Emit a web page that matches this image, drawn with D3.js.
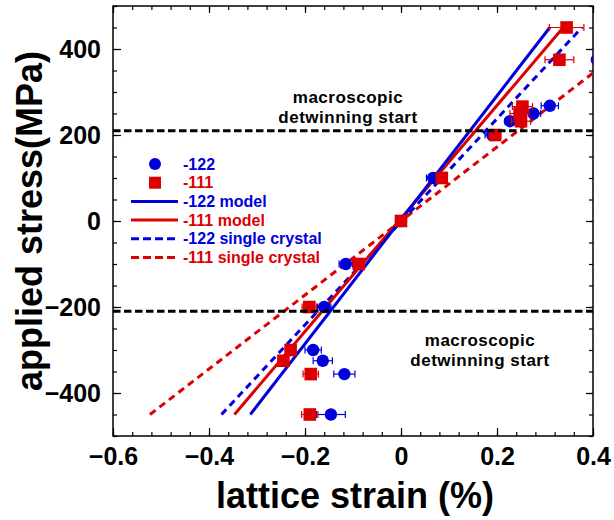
<!DOCTYPE html>
<html>
<head>
<meta charset="utf-8">
<script src="https://cdn.jsdelivr.net/npm/d3@7"></script>
<style>
  body { margin: 0; background: #fff; }
  svg { display: block; font-family: "Liberation Sans", Arial, sans-serif; font-weight: bold; }
</style>
</head>
<body>
<div id="chart"></div>
<script>
// lattice strain vs applied stress, -122 / -111 reflections

// measured points (strain %, stress MPa, x error)
const strain122 = [0.408, 0.31, 0.276, 0.227, 0.19, 0.067, 0, -0.115, -0.16, -0.183, -0.163, -0.118, -0.146];
const stress122 = [375, 268, 250, 232, 200, 100, 0, -100, -200, -300, -325, -356, -450];
const err122 = [0.006, 0.018, 0.015, 0.01, 0.015, 0.014, 0.01, 0.014, 0.014, 0.017, 0.02, 0.022, 0.03];

const strain111 = [0.345, 0.33, 0.253, 0.247, 0.25, 0.196, 0.085, 0, -0.088, -0.191, -0.23, -0.245, -0.188, -0.19];
const stress111 = [450, 375, 266, 250, 232, 200, 100, 0, -100, -200, -300, -325, -356, -450];
const err111 = [0.036, 0.03, 0.021, 0.02, 0.02, 0.012, 0.01, 0.01, 0.01, 0.015, 0.01, 0.01, 0.016, 0.017];

// straight lines, given by their two end points
const lineStress = [-450, 450];
const model122 = [-0.314, 0.31];
const model111 = [-0.347, 0.338];
const single122 = [-0.374, 0.377];
const single111 = [-0.523, 0.523];

// detwinning start levels
const detwinStress = [210, -210];

const xTicks = [-0.6, -0.4, -0.2, 0, 0.2, 0.4];
const yTicks = [-400, -200, 0, 200, 400];

const blue = '#0000dc';
const red = '#dc0000';

const width = 614, height = 520;
const margin = [6, 84, 113, 21]; // top, bottom, left, right

const svg = d3.select('#chart')
    .append('svg')
    .attr('width', width)
    .attr('height', height);

const x = d3.scaleLinear().domain([-0.6, 0.4]).range([margin[2], width - margin[3]]);
const y = d3.scaleLinear().domain([-500, 500]).range([height - margin[1], margin[0]]);

const x0 = x.range()[0], x1 = x.range()[1];
const yB = y.range()[0], yT = y.range()[1];

svg.append('clipPath').attr('id', 'plot')
    .append('rect')
    .attr('x', x0).attr('y', yT)
    .attr('width', x1 - x0).attr('height', yB - yT);

// axes: inward ticks on all four sides
const minorX = d3.range(-0.6, 0.4001, 0.04);
const minorY = d3.range(-500, 500.1, 50);

function drawAxis(axis, tr) {
    const g = svg.append('g').attr('transform', tr).call(axis);
    g.select('.domain').remove();
    g.selectAll('line').attr('stroke', '#000').attr('stroke-width', 1.2);
    return g;
}

drawAxis(d3.axisBottom(x).tickValues(minorX).tickSize(-4).tickFormat(''), `translate(0,${yB})`);
drawAxis(d3.axisTop(x).tickValues(minorX).tickSize(-4).tickFormat(''), `translate(0,${yT})`);
drawAxis(d3.axisLeft(y).tickValues(minorY).tickSize(-4).tickFormat(''), `translate(${x0},0)`);
drawAxis(d3.axisRight(y).tickValues(minorY).tickSize(-4).tickFormat(''), `translate(${x1},0)`);
drawAxis(d3.axisTop(x).tickValues(xTicks).tickSize(-7).tickFormat(''), `translate(0,${yT})`);
drawAxis(d3.axisRight(y).tickValues(yTicks).tickSize(-7).tickFormat(''), `translate(${x1},0)`);

const gx = drawAxis(d3.axisBottom(x).tickValues(xTicks).tickSize(-8).tickPadding(11)
    .tickFormat(d => d === 0 ? '0' : d3.format('.1f')(d)), `translate(0,${yB})`);
gx.selectAll('text').attr('font-size', 25).attr('font-family', null).attr('fill', '#000');

const gy = drawAxis(d3.axisLeft(y).tickValues(yTicks).tickSize(-8).tickPadding(12)
    .tickFormat(d3.format('d')), `translate(${x0},0)`);
gy.selectAll('text').attr('font-size', 25).attr('font-family', null).attr('fill', '#000');

svg.append('rect')
    .attr('x', x0).attr('y', yT)
    .attr('width', x1 - x0).attr('height', yB - yT)
    .attr('fill', 'none').attr('stroke', '#000').attr('stroke-width', 1.5);

// axis titles
svg.append('text')
    .attr('x', (x0 + x1) / 2 + 2).attr('y', 508)
    .attr('text-anchor', 'middle')
    .attr('font-size', 36)
    .text('lattice strain (%)');

svg.append('text')
    .attr('transform', `translate(42,${(yT + yB) / 2}) rotate(-90)`)
    .attr('text-anchor', 'middle')
    .attr('font-size', 36)
    .text('applied stress(MPa)');

const plot = svg.append('g').attr('clip-path', 'url(#plot)');

// model and single crystal lines
const lines = [
    { s: single111, c: red, dash: '7,5' },
    { s: single122, c: blue, dash: '7,5' },
    { s: model111, c: red, dash: null },
    { s: model122, c: blue, dash: null }
];
plot.selectAll('line.model')
    .data(lines)
    .join('line')
    .attr('class', 'model')
    .attr('x1', d => x(d.s[0])).attr('y1', y(lineStress[0]))
    .attr('x2', d => x(d.s[1])).attr('y2', y(lineStress[1]))
    .attr('stroke', d => d.c)
    .attr('stroke-width', 3)
    .attr('stroke-dasharray', d => d.dash);

// error bars + markers
function series(sx, sy, se, color, shape) {
    const data = sx.map((v, i) => ({ x: v, y: sy[i], e: se[i] }));
    const g = plot.append('g').attr('stroke', color).attr('stroke-width', 1.2);
    g.selectAll('line.bar').data(data).join('line')
        .attr('x1', d => x(d.x - d.e)).attr('x2', d => x(d.x + d.e))
        .attr('y1', d => y(d.y)).attr('y2', d => y(d.y));
    g.selectAll('line.capl').data(data).join('line')
        .attr('x1', d => x(d.x - d.e)).attr('x2', d => x(d.x - d.e))
        .attr('y1', d => y(d.y) - 3.5).attr('y2', d => y(d.y) + 3.5);
    g.selectAll('line.capr').data(data).join('line')
        .attr('x1', d => x(d.x + d.e)).attr('x2', d => x(d.x + d.e))
        .attr('y1', d => y(d.y) - 3.5).attr('y2', d => y(d.y) + 3.5);
    const m = plot.append('g').attr('fill', color);
    if (shape === 'circle') {
        m.selectAll('circle').data(data).join('circle')
            .attr('cx', d => x(d.x)).attr('cy', d => y(d.y)).attr('r', 6.2);
    } else {
        m.selectAll('rect').data(data).join('rect')
            .attr('x', d => x(d.x) - 6.3).attr('y', d => y(d.y) - 6.3)
            .attr('width', 12.6).attr('height', 12.6);
    }
}
series(strain122, stress122, err122, blue, 'circle');
series(strain111, stress111, err111, red, 'square');

// detwinning start lines
plot.selectAll('line.detwin')
    .data(detwinStress)
    .join('line')
    .attr('class', 'detwin')
    .attr('x1', x0).attr('x2', x1)
    .attr('y1', d => y(d)).attr('y2', d => y(d))
    .attr('stroke', '#000')
    .attr('stroke-width', 3)
    .attr('stroke-dasharray', '7.5,3.5');

const notes = [
    { x: 348, y: 103, t: 'macroscopic' },
    { x: 348, y: 122.5, t: 'detwinning start' },
    { x: 480, y: 346, t: 'macroscopic' },
    { x: 480, y: 365.5, t: 'detwinning start' }
];
svg.selectAll('text.note')
    .data(notes)
    .join('text')
    .attr('class', 'note')
    .attr('x', d => d.x).attr('y', d => d.y)
    .attr('text-anchor', 'middle')
    .attr('font-size', 17)
    .attr('letter-spacing', 0.5)
    .text(d => d.t);

// legend
const legend = [
    { t: '-122', c: blue, k: 'circle' },
    { t: '-111', c: red, k: 'square' },
    { t: '-122 model', c: blue, k: 'line' },
    { t: '-111 model', c: red, k: 'line' },
    { t: '-122 single crystal', c: blue, k: 'dash' },
    { t: '-111 single crystal', c: red, k: 'dash' }
];
const lg = svg.append('g');
legend.forEach((d, i) => {
    const cy = 164 + i * 18.7;
    if (d.k === 'circle') {
        lg.append('circle').attr('cx', 155).attr('cy', cy).attr('r', 6).attr('fill', d.c);
    } else if (d.k === 'square') {
        lg.append('rect').attr('x', 149).attr('y', cy - 6).attr('width', 12).attr('height', 12).attr('fill', d.c);
    } else {
        lg.append('line')
            .attr('x1', 131).attr('x2', 178).attr('y1', cy).attr('y2', cy)
            .attr('stroke', d.c).attr('stroke-width', 3)
            .attr('stroke-dasharray', d.k === 'dash' ? '8,4' : null);
    }
    lg.append('text')
        .attr('x', 183).attr('y', cy + 5.5)
        .attr('font-size', 16)
        .attr('fill', d.c)
        .text(d.t);
});
</script>
</body>
</html>
